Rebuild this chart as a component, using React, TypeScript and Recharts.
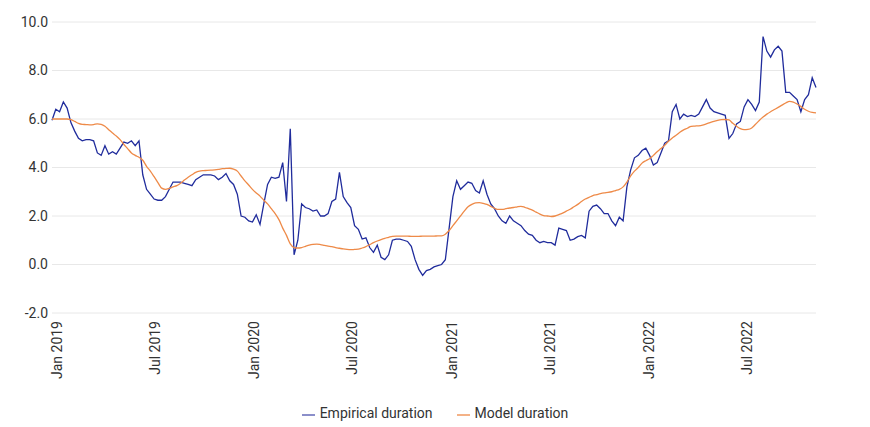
import React from "react";
import { LineChart, Line, XAxis, YAxis, CartesianGrid, Legend } from "recharts";

// weekly observations starting 1 Jan 2019
const START = Date.UTC(2019, 0, 1);
const WEEK_MS = 7 * 24 * 3600 * 1000;

const empirical = [
  5.95, 6.4, 6.3, 6.7, 6.45, 5.85, 5.5, 5.2, 5.1, 5.15,
  5.15, 5.1, 4.6, 4.5, 4.9, 4.55, 4.65, 4.55, 4.8, 5.05,
  5.0, 5.1, 4.9, 5.1, 3.7, 3.1, 2.9, 2.7, 2.65, 2.65,
  2.8, 3.1, 3.4, 3.4, 3.4, 3.35, 3.3, 3.25, 3.5, 3.6,
  3.7, 3.7, 3.7, 3.65, 3.5, 3.6, 3.75, 3.45, 3.3, 2.9,
  2.0, 1.95, 1.8, 1.75, 2.05, 1.65, 2.5, 3.3, 3.6, 3.55,
  3.6, 4.2, 2.6, 5.6, 0.4, 1.0, 2.5, 2.35, 2.3, 2.2,
  2.25, 2.0, 2.0, 2.1, 2.6, 2.7, 3.8, 2.8, 2.55, 2.35,
  1.6, 1.45, 1.05, 1.1, 0.7, 0.5, 0.8, 0.3, 0.2, 0.4,
  1.0, 1.05, 1.05, 1.0, 0.95, 0.75, 0.2, -0.2, -0.45, -0.25,
  -0.2, -0.1, -0.05, 0.0, 0.2, 1.5, 2.8, 3.45, 3.1, 3.25,
  3.4, 3.35, 3.05, 2.95, 3.45, 2.9, 2.5, 2.3, 2.0, 1.8,
  1.7, 2.0, 1.8, 1.7, 1.6, 1.4, 1.25, 1.2, 1.0, 0.9,
  0.95, 0.9, 0.9, 0.8, 1.5, 1.45, 1.4, 1.0, 1.05, 1.15,
  1.2, 1.1, 2.2, 2.4, 2.45, 2.3, 2.1, 2.1, 1.8, 1.6,
  1.95, 1.8, 3.2, 3.9, 4.4, 4.5, 4.7, 4.8, 4.5, 4.1,
  4.2, 4.6, 5.0, 5.1, 6.3, 6.6, 6.0, 6.2, 6.1, 6.15,
  6.1, 6.2, 6.5, 6.8, 6.45, 6.3, 6.25, 6.2, 6.15, 5.2,
  5.4, 5.8, 5.9, 6.5, 6.8, 6.6, 6.35, 6.7, 9.4, 8.8,
  8.55, 8.85, 9.0, 8.8, 7.1, 7.1, 6.95, 6.8, 6.3, 6.8,
  7.0, 7.7, 7.3,
];

const model = [
  6.0, 6.0, 6.0, 6.0, 6.0, 5.97, 5.9, 5.82, 5.78, 5.77,
  5.76, 5.77, 5.8, 5.78, 5.7, 5.56, 5.42, 5.3, 5.15, 4.95,
  4.78, 4.6, 4.5, 4.42, 4.3, 4.05, 3.85, 3.62, 3.38, 3.15,
  3.1, 3.14, 3.2, 3.25, 3.35, 3.48, 3.6, 3.7, 3.8, 3.85,
  3.87, 3.88, 3.89, 3.9, 3.92, 3.95, 3.96, 3.97, 3.93, 3.85,
  3.65, 3.45, 3.28, 3.1, 2.95, 2.82, 2.65, 2.5, 2.3, 2.1,
  1.85, 1.5, 1.2, 0.85, 0.7, 0.68, 0.7, 0.75, 0.8, 0.83,
  0.84, 0.82, 0.79, 0.76, 0.74, 0.7, 0.67, 0.64, 0.62, 0.61,
  0.62, 0.63, 0.68, 0.74, 0.82, 0.9, 0.97, 1.03, 1.08, 1.12,
  1.16, 1.17, 1.17, 1.17, 1.17, 1.16, 1.16, 1.16, 1.17, 1.17,
  1.17, 1.17, 1.18, 1.18, 1.25, 1.4, 1.6, 1.8, 2.0, 2.2,
  2.38, 2.48, 2.54, 2.55, 2.52, 2.48, 2.4, 2.32, 2.27, 2.27,
  2.3, 2.33, 2.35, 2.38, 2.4, 2.36, 2.3, 2.24, 2.16, 2.08,
  2.02, 2.0, 1.98, 2.0, 2.06, 2.12, 2.2, 2.28, 2.38, 2.48,
  2.6, 2.7, 2.77, 2.84, 2.88, 2.92, 2.95, 2.97, 3.0, 3.05,
  3.1, 3.2, 3.4, 3.65, 3.85, 4.0, 4.18, 4.28, 4.36, 4.5,
  4.65, 4.78, 4.92, 5.08, 5.22, 5.33, 5.45, 5.55, 5.62, 5.7,
  5.71, 5.72, 5.75, 5.8, 5.85, 5.9, 5.94, 5.97, 5.98, 5.96,
  5.82, 5.7, 5.6, 5.56, 5.57, 5.63, 5.78, 5.94, 6.08, 6.2,
  6.3, 6.39, 6.48, 6.57, 6.66, 6.73, 6.7, 6.62, 6.52, 6.4,
  6.32, 6.27, 6.25,
];

const tickDates = [
  "2019-01-01", "2019-07-01", "2020-01-01", "2020-07-01",
  "2021-01-01", "2021-07-01", "2022-01-01", "2022-07-01",
];
const tickLabels = [
  "Jan 2019", "Jul 2019", "Jan 2020", "Jul 2020",
  "Jan 2021", "Jul 2021", "Jan 2022", "Jul 2022",
];
const yTicks = [-2, 0, 2, 4, 6, 8, 10];

const BLUE = "#202c9c";
const ORANGE = "#ee8a48";
const FONT = "Roboto, sans-serif";

const chartData = empirical.map((v, i) => ({
  t: START + i * WEEK_MS,
  empirical: v,
  model: model[i],
}));
const tickValues = tickDates.map((d) => Date.parse(d));

function formatTick(t: number) {
  const idx = tickValues.indexOf(t);
  return idx >= 0 ? tickLabels[idx] : "";
}

function DurationLegend() {
  const items = [
    { label: "Empirical duration", color: "#8b8fca" },
    { label: "Model duration", color: "#f4b287" },
  ];
  return (
    <div
      style={{
        display: "flex",
        justifyContent: "center",
        alignItems: "center",
        gap: 24,
        height: 24,
        fontFamily: FONT,
        fontSize: 14,
        color: "#333",
      }}
    >
      {items.map((it) => (
        <div key={it.label} style={{ display: "flex", alignItems: "center" }}>
          <span
            style={{
              display: "inline-block",
              width: 13,
              height: 2,
              background: it.color,
              marginRight: 5,
              marginTop: 3,
            }}
          />
          <span>{it.label}</span>
        </div>
      ))}
    </div>
  );
}

export default function App() {
  return (
    <div style={{ position: "absolute", left: 0, top: 0, background: "#fff" }}>
      <LineChart
        width={870}
        height={427}
        data={chartData}
        margin={{ top: 22, right: 54, bottom: 2, left: 0 }}
      >
        <CartesianGrid vertical={false} stroke="#e8e8e8" />
        <XAxis
          dataKey="t"
          type="number"
          domain={["dataMin", "dataMax"]}
          ticks={tickValues}
          tickFormatter={formatTick}
          interval={0}
          angle={-90}
          textAnchor="end"
          height={88}
          axisLine={false}
          tickLine={false}
          tickSize={0}
          tickMargin={8}
          tick={{ fill: "#333", fontSize: 14, fontFamily: FONT }}
        />
        <YAxis
          domain={[-2, 10]}
          ticks={yTicks}
          tickFormatter={(v: number) => v.toFixed(1)}
          width={52}
          axisLine={false}
          tickLine={false}
          tickSize={0}
          tickMargin={4}
          tick={{ fill: "#333", fontSize: 14, fontFamily: FONT }}
        />
        <Legend
          verticalAlign="bottom"
          height={24}
          wrapperStyle={{ left: 0, width: 870 }}
          content={<DurationLegend />}
        />
        <Line
          type="linear"
          dataKey="empirical"
          name="Empirical duration"
          stroke={BLUE}
          strokeWidth={1.3}
          dot={false}
          isAnimationActive={false}
        />
        <Line
          type="monotone"
          dataKey="model"
          name="Model duration"
          stroke={ORANGE}
          strokeWidth={1.3}
          dot={false}
          isAnimationActive={false}
        />
      </LineChart>
    </div>
  );
}
